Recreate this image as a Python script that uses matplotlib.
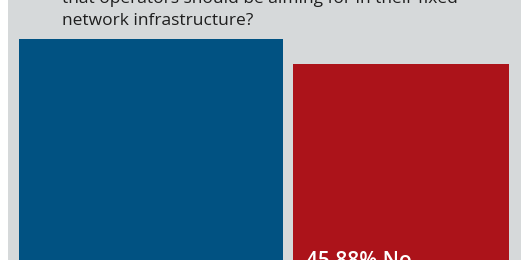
#!/usr/bin/env python3

import matplotlib
matplotlib.use('Agg')
import matplotlib.pyplot as plt
import numpy as np

# Data
answers = ['Yes', 'No']
shares = [54.12, 45.88]
bar_colors = ['#015282', '#ac131a']
question = ['that operators should be aiming for in their fixed',
            'network infrastructure?']

plt.rcParams['font.family'] = ['Open Sans', 'DejaVu Sans']

fig = plt.figure(figsize=(5.3, 2.6), dpi=100)
fig.patch.set_facecolor('white')

# grey panel, leaves a thin white margin left and right
ax = fig.add_axes([8 / 530, 0, 513 / 530, 1])
ax.set_facecolor('#d6d9da')
for s in ax.spines.values():
    s.set_visible(False)
ax.set_xticks([])
ax.set_yticks([])

base = -25  # bars run off the bottom of the crop
x = np.arange(len(answers))
widths = [1.056, 0.864]
ax.bar(x, np.array(shares) - base, bottom=base, width=widths,
       color=bar_colors, linewidth=0)

ax.set_xlim(-0.572, 1.48)
ax.set_ylim(-18.7, 67.0)

# question text (top line is cut off by the crop)
fig.text(62 / 530, 1 - 3 / 260, question[0], fontsize=12.5,
         color='#1e1e1e', va='baseline', ha='left')
fig.text(62 / 530, 1 - 25 / 260, question[1], fontsize=12.5,
         color='#1e1e1e', va='baseline', ha='left')

# value label for the No bar, cut off at the bottom like the source
ax.text(x[1] - widths[1] / 2 + 0.052, -21.0, f'{shares[1]:.2f}% {answers[1]}',
        fontsize=15, fontweight='semibold', color='white',
        va='baseline', ha='left')

plt.savefig('out.png', format='png', dpi=100)
plt.close()
